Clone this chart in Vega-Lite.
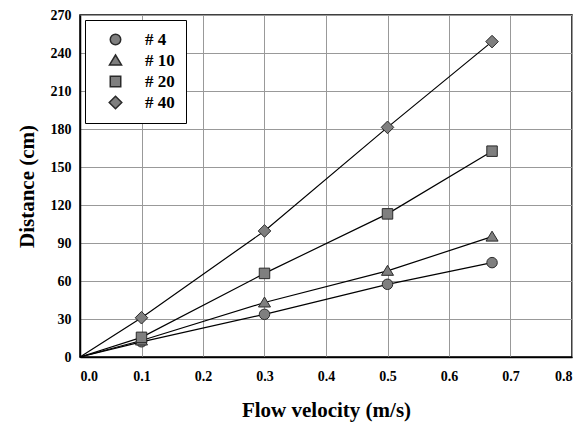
{
  "$schema": "https://vega.github.io/schema/vega-lite/v6.json",
  "width": 492,
  "height": 342,
  "autosize": {"type": "none"},
  "padding": {"left": 80, "top": 15, "right": 11, "bottom": 66},
  "background": "white",
  "config": {
    "font": "Liberation Serif",
    "view": {"stroke": "black", "strokeWidth": 1.5},
    "axis": {
      "labelFont": "Liberation Serif",
      "labelFontWeight": "bold",
      "labelFontSize": 14,
      "labelColor": "black",
      "titleFont": "Liberation Serif",
      "titleFontWeight": "bold",
      "titleFontSize": 21,
      "titleColor": "black",
      "domainColor": "black",
      "domainWidth": 1.5,
      "ticks": false,
      "gridColor": "#999999",
      "gridWidth": 1,
      "gridOpacity": 1
    }
  },
  "data": {
    "values": [
      {"series": "# 4", "v": 0, "d": 0},
      {"series": "# 4", "v": 0.1, "d": 12},
      {"series": "# 4", "v": 0.3, "d": 33.7},
      {"series": "# 4", "v": 0.5, "d": 57.4},
      {"series": "# 4", "v": 0.67, "d": 74.5},
      {"series": "# 10", "v": 0, "d": 0},
      {"series": "# 10", "v": 0.1, "d": 13},
      {"series": "# 10", "v": 0.3, "d": 43},
      {"series": "# 10", "v": 0.5, "d": 68},
      {"series": "# 10", "v": 0.67, "d": 95},
      {"series": "# 20", "v": 0, "d": 0},
      {"series": "# 20", "v": 0.1, "d": 15.5},
      {"series": "# 20", "v": 0.3, "d": 66},
      {"series": "# 20", "v": 0.5, "d": 113},
      {"series": "# 20", "v": 0.67, "d": 162.5},
      {"series": "# 40", "v": 0, "d": 0},
      {"series": "# 40", "v": 0.1, "d": 31},
      {"series": "# 40", "v": 0.3, "d": 99.5},
      {"series": "# 40", "v": 0.5, "d": 181.3},
      {"series": "# 40", "v": 0.67, "d": 249}
    ]
  },
  "encoding": {
    "x": {
      "field": "v", "type": "quantitative",
      "scale": {"domain": [0, 0.8], "nice": false},
      "axis": {"values": [0, 0.1, 0.2, 0.3, 0.4, 0.5, 0.6, 0.7, 0.8], "format": ".1f", "labelPadding": 12, "titlePadding": 16, "title": "Flow velocity (m/s)"}
    },
    "y": {
      "field": "d", "type": "quantitative",
      "scale": {"domain": [0, 270], "nice": false},
      "axis": {"values": [0, 30, 60, 90, 120, 150, 180, 210, 240, 270], "labelPadding": 9, "titlePadding": 13, "title": "Distance (cm)"}
    }
  },
  "layer": [
    {
      "mark": {"type": "line", "color": "black", "strokeWidth": 1.2},
      "encoding": {"detail": {"field": "series"}}
    },
    {
      "transform": [{"filter": "datum.v > 0"}],
      "mark": {"type": "point", "filled": true, "fill": "#7f7f7f", "stroke": "#2a2a2a", "strokeWidth": 1, "opacity": 1, "size": 110},
      "encoding": {
        "shape": {
          "field": "series", "type": "nominal",
          "scale": {"domain": ["# 4", "# 10", "# 20", "# 40"], "range": ["circle", "M0,-1.05L1.15,0.85L-1.15,0.85Z", "square", "M0,-1.2L1.2,0L0,1.2L-1.2,0Z"]},
          "legend": {
            "title": null,
            "orient": "none",
            "legendX": 5,
            "legendY": 5,
            "fillColor": "white",
            "strokeColor": "black",
            "padding": 11,
            "symbolOffset": 11,
            "symbolSize": 110,
            "labelFont": "Liberation Serif",
            "labelFontWeight": "bold",
            "labelFontSize": 17,
            "labelColor": "black",
            "labelOffset": 21,
            "rowPadding": 3,
            "encode": {
              "symbols": {
                "update": {
                  "fill": {"value": "#7f7f7f"},
                  "stroke": {"value": "#2a2a2a"},
                  "strokeWidth": {"value": 1},
                  "opacity": {"value": 1}
                }
              }
            }
          }
        }
      }
    }
  ]
}
